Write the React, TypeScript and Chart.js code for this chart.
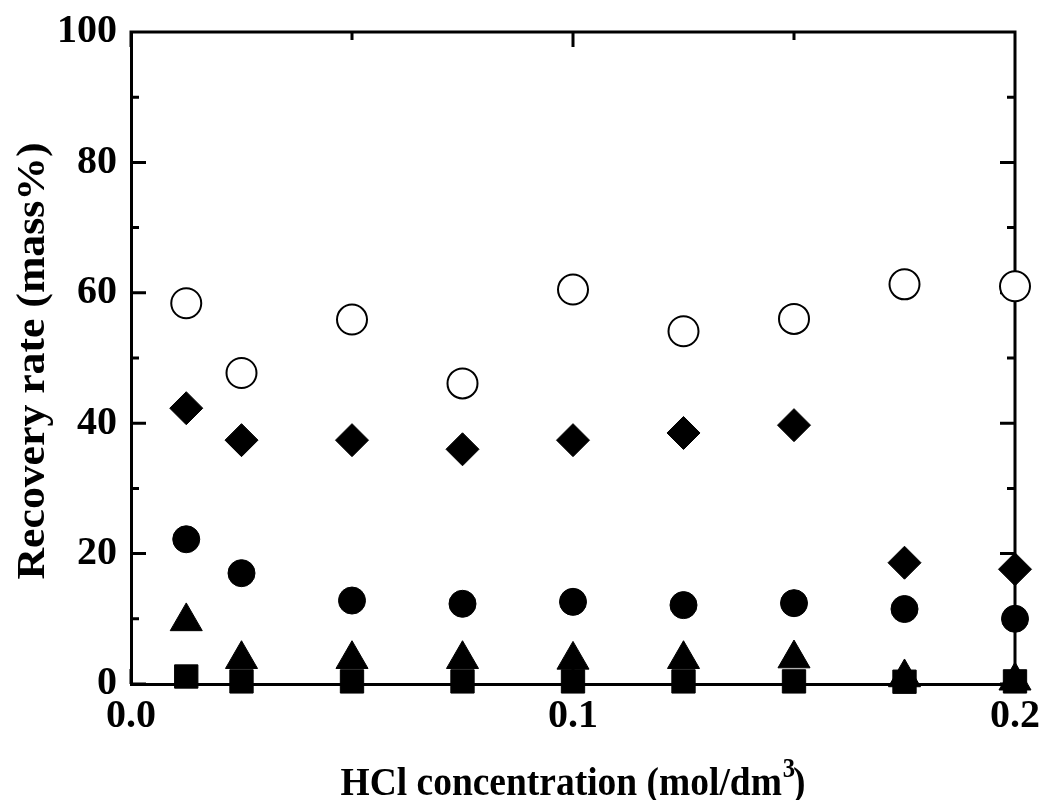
import React, { useEffect, useRef } from 'react';
import { Chart, registerables } from 'chart.js';

Chart.register(...registerables);

// HCl concentration (mol/dm3)
const concentrations = [0.0125, 0.025, 0.05, 0.075, 0.1, 0.125, 0.15, 0.175, 0.2];
// Recovery rate (mass%) per series
const openCircleValues = [58.4, 47.7, 55.9, 46.1, 60.5, 54.1, 56.0, 61.3, 61.0];
const diamondValues = [42.3, 37.4, 37.4, 36.0, 37.4, 38.5, 39.7, 18.6, 17.6];
const filledCircleValues = [22.2, 17.0, 12.8, 12.3, 12.6, 12.1, 12.4, 11.5, 10.0];
const triangleValues = [9.6, 3.8, 3.8, 3.8, 3.7, 3.8, 3.9, 1.0, 0.5];
const squareValues = [1.15, 0.4, 0.4, 0.4, 0.4, 0.4, 0.4, 0.35, 0.4];

const xMajorTicks = [0, 0.1, 0.2];
const xMinorTicks = [0.05, 0.15];
const yMajorTicks = [0, 20, 40, 60, 80, 100];
const yMinorTicks = [10, 30, 50, 70, 90];

const xTitleMain = 'HCl concentration (mol/dm';
const xTitleSup = '3';
const xTitleEnd = ')';
const yTitle = 'Recovery rate (mass%)';

const FONT = '"Liberation Serif", "Times New Roman", serif';

const toPoints = (ys: number[]) => concentrations.map((x, i) => ({ x, y: ys[i] }));

const framePlugin = {
  id: 'frameAndTicks',
  beforeDatasetsDraw(chart: any) {
    const { ctx, chartArea } = chart;
    const xs = chart.scales.x;
    const ys = chart.scales.y;
    const { left, right, top, bottom } = chartArea;
    ctx.save();
    ctx.strokeStyle = '#000';
    ctx.lineWidth = 3;
    ctx.lineCap = 'butt';
    ctx.beginPath();
    ctx.moveTo(left - 1.5, top);
    ctx.lineTo(right, top);
    ctx.moveTo(right, top - 1.5);
    ctx.lineTo(right, bottom + 1.5);
    const major = 15;
    const minor = 8;
    const xt = (v: number, len: number) => {
      const px = xs.getPixelForValue(v);
      ctx.moveTo(px, bottom);
      ctx.lineTo(px, bottom - len);
      ctx.moveTo(px, top);
      ctx.lineTo(px, top + len);
    };
    const yt = (v: number, len: number) => {
      const py = ys.getPixelForValue(v);
      ctx.moveTo(left, py);
      ctx.lineTo(left + len, py);
      ctx.moveTo(right, py);
      ctx.lineTo(right - len, py);
    };
    xMajorTicks.forEach((v) => xt(v, major));
    xMinorTicks.forEach((v) => xt(v, minor));
    yMajorTicks.forEach((v) => yt(v, major));
    yMinorTicks.forEach((v) => yt(v, minor));
    ctx.stroke();
    ctx.restore();
  },
  afterDraw(chart: any) {
    const { ctx, chartArea } = chart;
    ctx.save();
    ctx.fillStyle = '#000';
    ctx.textBaseline = 'alphabetic';
    ctx.textAlign = 'left';
    // x title
    const mainFont = `bold 41px ${FONT}`;
    const supFont = `bold 27px ${FONT}`;
    ctx.font = mainFont;
    const w1 = ctx.measureText(xTitleMain).width;
    const w2 = ctx.measureText(xTitleEnd).width;
    ctx.font = supFont;
    const ws = ctx.measureText(xTitleSup).width;
    const overlap = ws * 0.1;
    const total = w1 + ws - overlap + w2;
    const targetW = 465;
    const cx = (chartArea.left + chartArea.right) / 2;
    ctx.save();
    ctx.translate(cx - targetW / 2, 795);
    ctx.scale(targetW / total, 1);
    ctx.font = mainFont;
    ctx.fillText(xTitleMain, 0, 0);
    ctx.font = supFont;
    ctx.fillText(xTitleSup, w1 + 1, -18);
    ctx.font = mainFont;
    ctx.fillText(xTitleEnd, w1 + ws - overlap, 0);
    ctx.restore();
    // y title
    ctx.save();
    ctx.font = mainFont;
    const wy = ctx.measureText(yTitle).width;
    const targetH = 437;
    const cy = (chartArea.top + chartArea.bottom) / 2 + 3;
    ctx.translate(44, cy);
    ctx.rotate(-Math.PI / 2);
    ctx.scale(targetH / wy, 1);
    ctx.textAlign = 'center';
    ctx.fillText(yTitle, 0, 0);
    ctx.restore();
    ctx.restore();
  },
};

export default function App() {
  const canvasRef = useRef<HTMLCanvasElement | null>(null);

  useEffect(() => {
    document.body.style.margin = '0';
    const canvas = canvasRef.current;
    if (!canvas) return;
    const tickFont = { family: FONT, size: 40, weight: 'bold' as const };
    const chart = new Chart(canvas, {
      type: 'scatter',
      data: {
        datasets: [
          {
            label: 'open circle',
            data: toPoints(openCircleValues),
            pointStyle: 'circle',
            pointRadius: 15,
            pointBackgroundColor: '#fff',
            pointBorderColor: '#000',
            pointBorderWidth: 2,
            clip: false,
          } as any,
          {
            label: 'diamond',
            data: toPoints(diamondValues),
            pointStyle: 'rectRot',
            pointRadius: 16.5,
            pointBackgroundColor: '#000',
            pointBorderColor: '#000',
            pointBorderWidth: 1,
            clip: false,
          },
          {
            label: 'filled circle',
            data: toPoints(filledCircleValues),
            pointStyle: 'circle',
            pointRadius: 13.5,
            pointBackgroundColor: '#000',
            pointBorderColor: '#000',
            pointBorderWidth: 1,
            clip: false,
          },
          {
            label: 'triangle',
            data: toPoints(triangleValues),
            pointStyle: 'triangle',
            pointRadius: 18.5,
            pointBackgroundColor: '#000',
            pointBorderColor: '#000',
            pointBorderWidth: 1,
            clip: false,
          },
          {
            label: 'square',
            data: toPoints(squareValues),
            pointStyle: 'rect',
            pointRadius: 16.5,
            pointBackgroundColor: '#000',
            pointBorderColor: '#000',
            pointBorderWidth: 1,
            clip: false,
          },
        ],
      },
      options: {
        animation: false,
        responsive: true,
        maintainAspectRatio: false,
        layout: { padding: { top: 32, right: 27, left: 0, bottom: 0 } },
        plugins: { legend: { display: false }, tooltip: { enabled: false } },
        scales: {
          x: {
            type: 'linear',
            min: 0,
            max: 0.2,
            grid: { display: false, drawTicks: false },
            border: { display: true, color: '#000', width: 3 },
            ticks: {
              stepSize: 0.1,
              padding: 9,
              color: '#000',
              font: tickFont,
              maxRotation: 0,
              autoSkip: false,
              callback: (v: any) => Number(v).toFixed(1),
            },
            afterFit: (scale: any) => {
              scale.height = 116;
              scale.paddingLeft = 0;
              scale.paddingRight = 0;
              scale.paddingTop = 0;
              scale.paddingBottom = 0;
            },
          },
          y: {
            type: 'linear',
            min: 0,
            max: 100,
            grid: { display: false, drawTicks: false },
            border: { display: true, color: '#000', width: 3 },
            ticks: {
              stepSize: 20,
              padding: 14,
              color: '#000',
              font: tickFont,
              callback: (v: any) => String(Math.round(Number(v))),
            },
            afterFit: (scale: any) => {
              scale.width = 131;
              scale.paddingLeft = 0;
              scale.paddingRight = 0;
              scale.paddingTop = 0;
              scale.paddingBottom = 0;
            },
          },
        },
      },
      plugins: [framePlugin],
    });
    return () => chart.destroy();
  }, []);

  return (
    <div style={{ position: 'relative', width: '1042px', height: '800px' }}>
      <canvas ref={canvasRef} />
    </div>
  );
}
